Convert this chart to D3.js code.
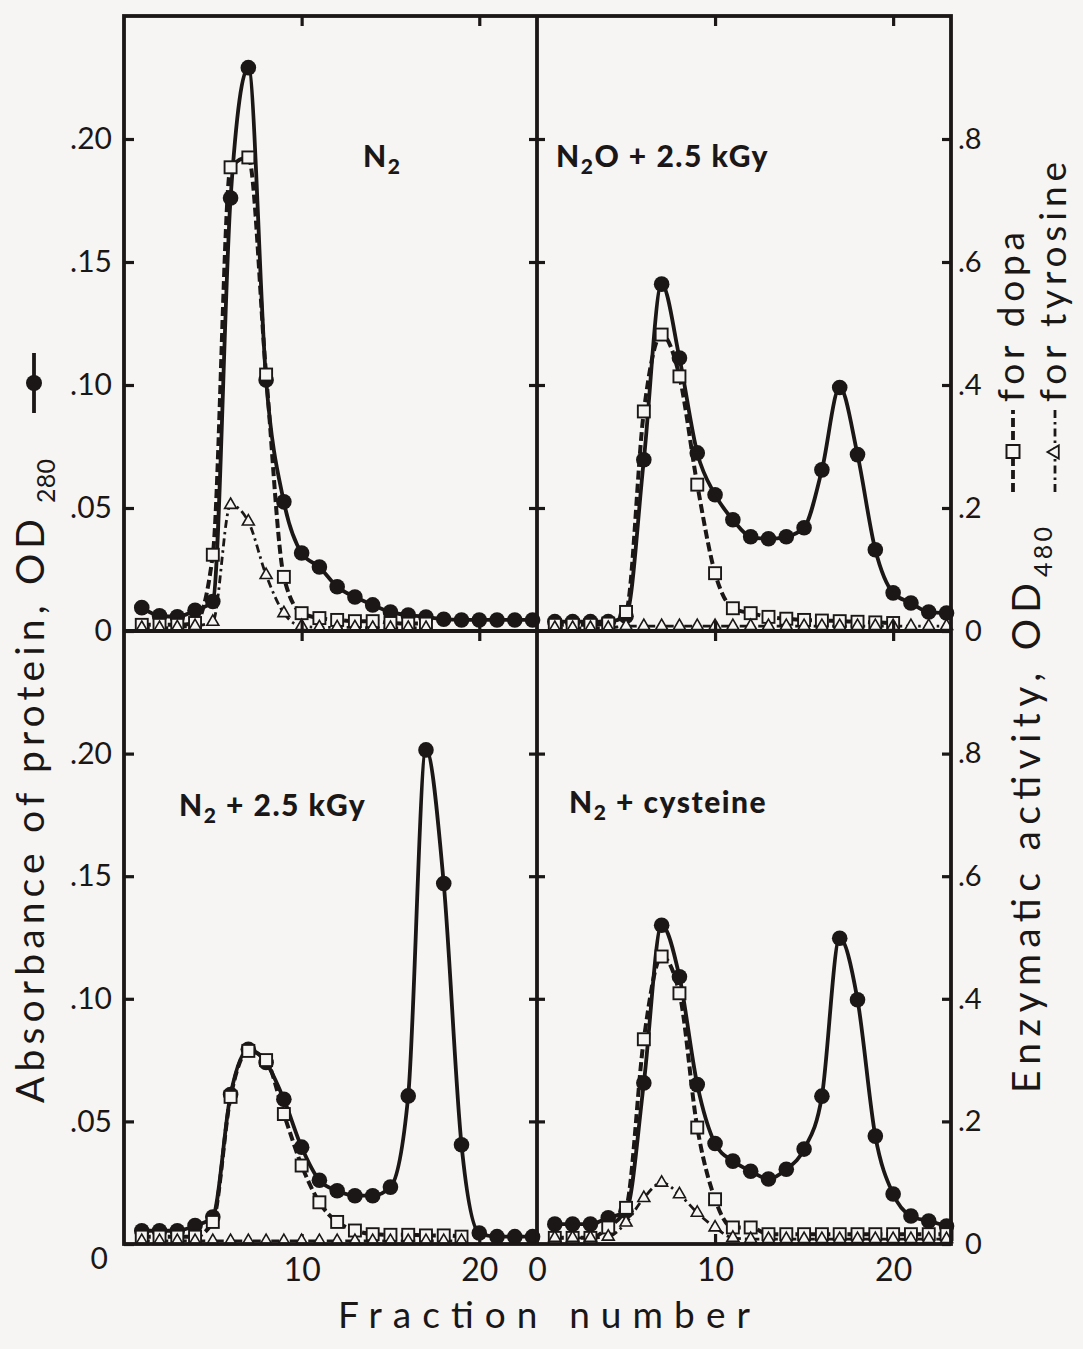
<!DOCTYPE html>
<html>
<head>
<meta charset="utf-8">
<script src="https://cdn.jsdelivr.net/npm/d3@7"></script>
<style>
body { margin: 0; background: #f6f5f3; }
svg { display: block; font-family: Lato, "Open Sans", sans-serif; }
</style>
</head>
<body>
<div id="chart"></div>
<script>
const FRAME_WIDTH = 1083;
const FRAME_HEIGHT = 1349;
const INK = "#1b1717";
const BG = "#f6f5f3";

// frame geometry (two columns, two rows)
const COL_X = [124, 537, 951];
const ROW_Y = [16, 631, 1244];
const X_MAX = 23.25;

// ---- data ----
const FRACTIONS = [1, 2, 3, 4, 5, 6, 7, 8, 9, 10, 11, 12, 13, 14, 15, 16, 17, 18, 19, 20, 21, 22, 23];

// N2  (protein OD280 left scale, enzyme OD480 right scale)
const N2_PROTEIN = [0.0095, 0.0062, 0.0058, 0.0084, 0.012, 0.176, 0.229, 0.102, 0.0525, 0.0317, 0.026, 0.018, 0.0138, 0.0106, 0.0077, 0.0065, 0.0057, 0.0048, 0.0045, 0.0045, 0.0045, 0.0045, 0.0045];
const N2_DOPA = [0.01, 0.01, 0.01, 0.013, 0.124, 0.754, 0.77, 0.417, 0.088, 0.029, 0.021, 0.018, 0.016, 0.016, 0.013, 0.012, 0.012, null, null, null, null, null, null];
const N2_TYROSINE = [0.005, 0.005, 0.006, 0.008, 0.015, 0.205, 0.178, 0.091, 0.029, 0.008, 0.006, 0.006, 0.006, 0.005, 0.005, 0.005, 0.005, null, null, null, null, null, null];

// N2O + 2.5 kGy
const N2O_PROTEIN = [0.0038, 0.0038, 0.0038, 0.0038, 0.006, 0.0696, 0.141, 0.111, 0.0724, 0.0554, 0.0452, 0.0383, 0.0375, 0.0383, 0.042, 0.0655, 0.099, 0.0717, 0.033, 0.0155, 0.0114, 0.0077, 0.0073];
const N2O_DOPA = [0.01, 0.01, 0.01, 0.012, 0.031, 0.357, 0.482, 0.414, 0.238, 0.094, 0.037, 0.029, 0.023, 0.02, 0.018, 0.017, 0.016, 0.015, 0.014, 0.013, null, null, null];
const N2O_TYROSINE = [0.005, 0.005, 0.005, 0.005, 0.008, 0.008, 0.008, 0.008, 0.008, 0.008, 0.008, 0.008, 0.008, 0.008, 0.008, 0.008, 0.008, 0.008, 0.008, 0.008, 0.008, 0.008, 0.008];

// N2 + 2.5 kGy
const N2GY_PROTEIN = [0.0054, 0.0054, 0.0054, 0.0075, 0.011, 0.061, 0.0794, 0.074, 0.059, 0.0395, 0.026, 0.0217, 0.0197, 0.0197, 0.0232, 0.0604, 0.2015, 0.147, 0.0405, 0.0045, 0.003, 0.003, 0.003];
const N2GY_DOPA = [0.012, 0.012, 0.012, 0.012, 0.036, 0.24, 0.315, 0.3, 0.212, 0.128, 0.068, 0.036, 0.022, 0.016, 0.015, 0.015, 0.014, 0.014, 0.012, null, null, null, null];
const N2GY_TYROSINE = [0.005, 0.005, 0.005, 0.005, 0.005, 0.005, 0.005, 0.005, 0.005, 0.005, 0.005, 0.005, 0.005, 0.005, 0.005, 0.005, 0.005, 0.005, 0.005, null, null, null, null];

// N2 + cysteine
const N2CYS_PROTEIN = [0.0081, 0.0081, 0.0081, 0.0107, 0.0134, 0.0657, 0.13, 0.109, 0.065, 0.041, 0.0338, 0.0297, 0.0265, 0.0305, 0.0387, 0.0603, 0.1247, 0.0996, 0.044, 0.0204, 0.0114, 0.0094, 0.0073];
const N2CYS_DOPA = [0.01, 0.01, 0.01, 0.027, 0.059, 0.334, 0.469, 0.409, 0.19, 0.073, 0.027, 0.027, 0.016, 0.016, 0.016, 0.016, 0.016, 0.016, 0.016, 0.016, 0.016, 0.016, 0.016];
const N2CYS_TYROSINE = [0.01, 0.01, 0.01, 0.012, 0.035, 0.075, 0.1, 0.081, 0.051, 0.027, 0.01, 0.008, 0.008, 0.008, 0.008, 0.008, 0.008, 0.008, 0.008, 0.008, 0.008, 0.008, 0.008];

// panel captions: [main, subscript, rest]
const PANEL_LABELS = [["N", "2", ""], ["N", "2", "O + 2.5 kGy"], ["N", "2", " + 2.5 kGy"], ["N", "2", " + cysteine"]];

const X_TICKS = [10, 20];
const Y_LEFT_TICKS = [0.05, 0.10, 0.15, 0.20];
const Y_RIGHT_TICKS = [0.2, 0.4, 0.6, 0.8];

const PANELS = [
  {col: 0, row: 0, protein: N2_PROTEIN, dopa: N2_DOPA, tyr: N2_TYROSINE, label: PANEL_LABELS[0], lx: 363, ly: 167},
  {col: 1, row: 0, protein: N2O_PROTEIN, dopa: N2O_DOPA, tyr: N2O_TYROSINE, label: PANEL_LABELS[1], lx: 556, ly: 167},
  {col: 0, row: 1, protein: N2GY_PROTEIN, dopa: N2GY_DOPA, tyr: N2GY_TYROSINE, label: PANEL_LABELS[2], lx: 179, ly: 816},
  {col: 1, row: 1, protein: N2CYS_PROTEIN, dopa: N2CYS_DOPA, tyr: N2CYS_TYROSINE, label: PANEL_LABELS[3], lx: 569, ly: 813}
];

const FRAME = d3.select("#chart")
  .append("svg")
    .attr("width", FRAME_WIDTH)
    .attr("height", FRAME_HEIGHT)
    .style("background", BG);

//pack values with their fraction numbers
function series(values) {
  return FRACTIONS.map((f, i) => ({f: f, v: values[i]}));
}

function styleAxis(g, size) {
  g.attr("font-family", "Lato, 'Open Sans', sans-serif")
   .attr("font-size", size)
   .style("color", INK);
  g.select(".domain").remove();
  g.selectAll("line").attr("stroke-width", 3.2);
  return g;
}

const fmtLeft = (d) => d === 0 ? "0" : d3.format(".2f")(d).slice(1);
const fmtRight = (d) => d === 0 ? "0" : d3.format(".1f")(d).slice(1);

PANELS.forEach((p) => {
  const x0 = COL_X[p.col], x1 = COL_X[p.col + 1];
  const yt = ROW_Y[p.row], yb = ROW_Y[p.row + 1];

  const X_SCALE = d3.scaleLinear().domain([0, X_MAX]).range([x0, x1]);
  const Y_LEFT = d3.scaleLinear().domain([0, 0.25]).range([yb, yt]);
  const Y_RIGHT = d3.scaleLinear().domain([0, 1.0]).range([yb, yt]);

  const G = FRAME.append("g");

  // ticks on the frame
  if (p.col === 0) {
    const ax = G.append("g")
      .attr("transform", "translate(" + x0 + ",0)")
      .call(d3.axisLeft(Y_LEFT).tickValues([0].concat(Y_LEFT_TICKS)).tickSize(-10).tickPadding(12).tickFormat(fmtLeft));
    styleAxis(ax, 30);
    if (p.row === 1) {
      ax.selectAll(".tick").filter((d) => d === 0).select("text").attr("transform", "translate(-4,15)");
    }
  } else {
    const ax = G.append("g")
      .attr("transform", "translate(" + (x0 - 8) + ",0)")
      .call(d3.axisRight(Y_LEFT).tickValues(Y_LEFT_TICKS).tickSize(16).tickFormat(""));
    styleAxis(ax, 10);
    const ar = G.append("g")
      .attr("transform", "translate(" + x1 + ",0)")
      .call(d3.axisRight(Y_RIGHT).tickValues([0].concat(Y_RIGHT_TICKS)).tickSize(-9).tickPadding(7).tickFormat(fmtRight));
    styleAxis(ar, 29);
    ar.selectAll(".tick").filter((d) => d === 0).select("text").attr("x", 14);
  }

  if (p.row === 0) {
    const at = G.append("g")
      .attr("transform", "translate(0," + yt + ")")
      .call(d3.axisTop(X_SCALE).tickValues(X_TICKS).tickSize(-10).tickFormat(""));
    styleAxis(at, 10);
  } else {
    const am = G.append("g")
      .attr("transform", "translate(0," + (yt - 10) + ")")
      .call(d3.axisBottom(X_SCALE).tickValues(X_TICKS).tickSize(20).tickFormat(""));
    styleAxis(am, 10);
    const xt = p.col === 1 ? [0].concat(X_TICKS) : X_TICKS;
    const ab = G.append("g")
      .attr("transform", "translate(0," + yb + ")")
      .call(d3.axisBottom(X_SCALE).tickValues(xt).tickSize(-10).tickPadding(14).tickFormat(d3.format("d")));
    styleAxis(ab, 32);
    ab.selectAll(".tick").filter((d) => d === 0).select("line").remove();
  }

  // lines
  const lineLeft = d3.line()
    .defined((d) => d.v != null)
    .curve(d3.curveMonotoneX)
    .x((d) => X_SCALE(d.f))
    .y((d) => Y_LEFT(d.v));
  const lineRight = d3.line()
    .defined((d) => d.v != null)
    .curve(d3.curveMonotoneX)
    .x((d) => X_SCALE(d.f))
    .y((d) => Y_RIGHT(d.v));

  G.append("path")
    .datum(series(p.tyr))
    .attr("d", lineRight)
    .attr("fill", "none")
    .attr("stroke", INK)
    .attr("stroke-width", 2.8)
    .attr("stroke-dasharray", "8,4,2.5,4");

  G.append("path")
    .datum(series(p.dopa))
    .attr("d", lineRight)
    .attr("fill", "none")
    .attr("stroke", INK)
    .attr("stroke-width", 4)
    .attr("stroke-dasharray", "9,4");

  G.append("path")
    .datum(series(p.protein))
    .attr("d", lineLeft)
    .attr("fill", "none")
    .attr("stroke", INK)
    .attr("stroke-width", 3.8);

  // markers
  G.selectAll("circle.protein")
    .data(series(p.protein).filter((d) => d.v != null))
    .enter()
    .append("circle")
      .attr("class", "protein")
      .attr("cx", (d) => X_SCALE(d.f))
      .attr("cy", (d) => Y_LEFT(d.v))
      .attr("r", 7.8)
      .attr("fill", INK);

  G.selectAll("rect.dopa")
    .data(series(p.dopa).filter((d) => d.v != null))
    .enter()
    .append("rect")
      .attr("class", "dopa")
      .attr("x", (d) => X_SCALE(d.f) - 6)
      .attr("y", (d) => Y_RIGHT(d.v) - 6)
      .attr("width", 12)
      .attr("height", 12)
      .attr("fill", BG)
      .attr("stroke", INK)
      .attr("stroke-width", 1.9);

  G.selectAll("path.tyr")
    .data(series(p.tyr).filter((d) => d.v != null))
    .enter()
    .append("path")
      .attr("class", "tyr")
      .attr("d", d3.symbol(d3.symbolTriangle, 62))
      .attr("transform", (d) => "translate(" + X_SCALE(d.f) + "," + Y_RIGHT(d.v) + ")")
      .attr("fill", BG)
      .attr("stroke", INK)
      .attr("stroke-width", 1.6);

  // panel caption
  const t = G.append("text")
    .attr("x", p.lx)
    .attr("y", p.ly)
    .attr("font-size", 30)
    .attr("font-weight", 900)
    .attr("letter-spacing", 1.5)
    .attr("fill", INK);
  t.append("tspan").text(p.label[0]);
  t.append("tspan").attr("dy", 7).attr("font-size", 21).text(p.label[1]);
  t.append("tspan").attr("dy", -7).text(p.label[2]);
});

// frame
FRAME.append("rect")
  .attr("x", COL_X[0]).attr("y", ROW_Y[0])
  .attr("width", COL_X[2] - COL_X[0]).attr("height", ROW_Y[2] - ROW_Y[0])
  .attr("fill", "none").attr("stroke", INK).attr("stroke-width", 3.8);
FRAME.append("line")
  .attr("x1", COL_X[1]).attr("x2", COL_X[1]).attr("y1", ROW_Y[0]).attr("y2", ROW_Y[2])
  .attr("stroke", INK).attr("stroke-width", 3.8);
FRAME.append("line")
  .attr("x1", COL_X[0]).attr("x2", COL_X[2]).attr("y1", ROW_Y[1]).attr("y2", ROW_Y[1])
  .attr("stroke", INK).attr("stroke-width", 3.8);

// left title
const LT = FRAME.append("g").attr("transform", "translate(44,1103) rotate(-90)").attr("fill", INK);
LT.append("text").attr("x", 0).attr("y", 0).attr("font-size", 39)
  .attr("textLength", 584).attr("lengthAdjust", "spacing").text("Absorbance of protein, OD");
LT.append("text").attr("x", 600).attr("y", 11).attr("font-size", 25)
  .attr("textLength", 44).attr("lengthAdjust", "spacing").text("280");

// protein legend symbol
FRAME.append("line").attr("x1", 34).attr("x2", 34).attr("y1", 353).attr("y2", 413)
  .attr("stroke", INK).attr("stroke-width", 3.8);
FRAME.append("circle").attr("cx", 34).attr("cy", 383).attr("r", 8).attr("fill", INK);

// right title
const RT = FRAME.append("g").attr("transform", "translate(1040,1093) rotate(-90)").attr("fill", INK);
RT.append("text").attr("x", 0).attr("y", 0).attr("font-size", 39)
  .attr("textLength", 510).attr("lengthAdjust", "spacing").text("Enzymatic activity, OD");
RT.append("text").attr("x", 516).attr("y", 12).attr("font-size", 25)
  .attr("textLength", 50).attr("lengthAdjust", "spacing").text("480");

// enzyme legend
const LEGEND = [
  {name: "for dopa", x: 1013, dash: "9,4", w: 3.8, len: 170},
  {name: "for tyrosine", x: 1055, dash: "8,4,2.5,4", w: 2.8, len: 240}
];
LEGEND.forEach((l, i) => {
  FRAME.append("line").attr("x1", l.x).attr("x2", l.x).attr("y1", 492).attr("y2", 410)
    .attr("stroke", INK).attr("stroke-width", l.w).attr("stroke-dasharray", l.dash);
  if (i === 0) {
    FRAME.append("rect").attr("x", l.x - 6.5).attr("y", 445).attr("width", 13).attr("height", 13)
      .attr("fill", BG).attr("stroke", INK).attr("stroke-width", 2);
  } else {
    FRAME.append("path").attr("d", d3.symbol(d3.symbolTriangle, 75))
      .attr("transform", "translate(" + l.x + ",452) rotate(-90)")
      .attr("fill", BG).attr("stroke", INK).attr("stroke-width", 1.8);
  }
  FRAME.append("text")
    .attr("transform", "translate(" + (l.x + 11) + ",402) rotate(-90)")
    .attr("font-size", 37).attr("fill", INK)
    .attr("textLength", l.len).attr("lengthAdjust", "spacing")
    .text(l.name);
});

// bottom title
FRAME.append("text")
  .attr("x", 338).attr("y", 1328)
  .attr("font-size", 37).attr("fill", INK)
  .attr("textLength", 412).attr("lengthAdjust", "spacing")
  .text("Fraction number");
</script>
</body>
</html>
